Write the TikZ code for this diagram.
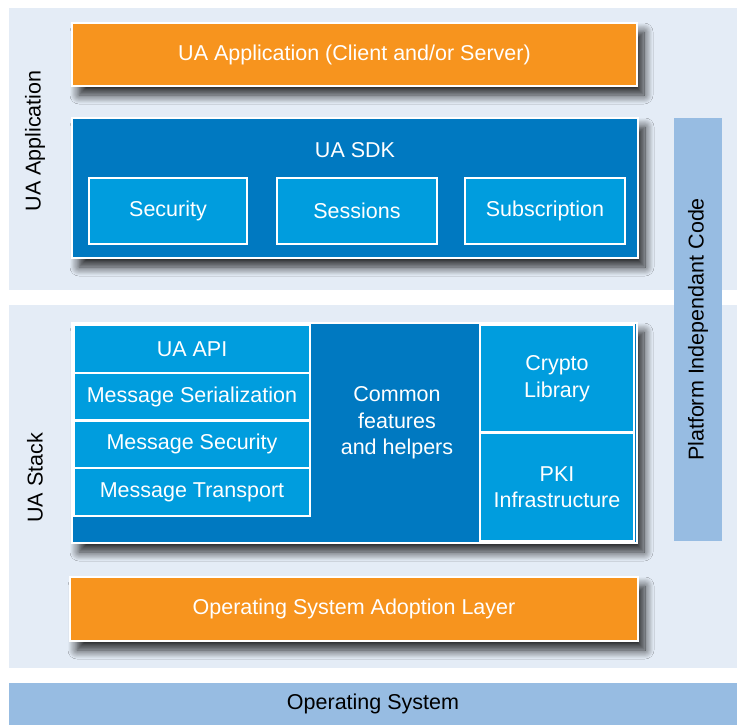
\documentclass[tikz,border=0pt]{standalone}
\usepackage{fontspec}
\setmainfont{Liberation Sans}
\usetikzlibrary{shadows.blur}

\definecolor{panelbg}{RGB}{228,236,246}
\definecolor{uaorange}{RGB}{247,148,30}
\definecolor{darkblue}{RGB}{0,121,193}
\definecolor{lightblue}{RGB}{0,157,222}
\definecolor{paleblue}{RGB}{151,188,226}

\tikzset{
  box/.style={draw=white, line width=2pt, text=white, inner sep=0pt,
              font=\fontsize{21.5}{26.5}\selectfont, align=center},
  orangebox/.style={box, fill=uaorange},
  darkbox/.style={box, fill=darkblue},
  lightbox/.style={box, fill=lightblue},
  shadowed/.style={blur shadow={shadow xshift=7pt, shadow yshift=-9pt,
                   shadow blur radius=9pt, shadow blur steps=12, shadow opacity=85}},
  layer/.style={inner sep=0pt, font=\fontsize{21.5}{26.5}\selectfont, text=black},
  sidelabel/.style={layer, rotate=90}
}

\begin{document}
\begin{tikzpicture}[x=1pt,y=-1pt]
    \useasboundingbox (0,0) rectangle (737,725);

    % background bands
    \fill[panelbg] (9,8) rectangle (737,290);
    \fill[panelbg] (9,305) rectangle (737,668);
    \node[layer, fill=paleblue, minimum width=728pt, minimum height=42pt] (os) at (373,704) {Operating System};
    \node[layer, fill=paleblue, minimum width=48pt, minimum height=423pt] (pic) at (698,329.5) {};
    \node[sidelabel] (picode) at (pic.center) {Platform Independant Code};

    \node[sidelabel] (applabel) at (35,141) {UA Application};
    \node[sidelabel] (stacklabel) at (35,478) {UA Stack};

    % application part
    \node[orangebox, shadowed, minimum width=565pt, minimum height=63pt] (app) at (354.5,54.5)
        {UA Application (Client and/or Server)};
    \node[darkbox, shadowed, minimum width=566pt, minimum height=140pt] (sdk) at (355,188) {};
    \node[box, draw=none] (sdktitle) at (355,150) {UA SDK};
    \node[lightbox, minimum width=158pt, minimum height=66pt] (security) at (168,211) {Security};
    \node[lightbox, minimum width=160pt, minimum height=66pt] (sessions) at (357,211) {Sessions};
    \node[lightbox, minimum width=160pt, minimum height=66pt] (subscription) at (545,211) {Subscription};

    % stack part
    \node[darkbox, shadowed, minimum width=565pt, minimum height=220pt] (stack) at (354.5,433) {};
    \node[lightbox, minimum width=236pt, minimum height=47.75pt] (uaapi) at (192,348.9) {UA API};
    \node[lightbox, minimum width=236pt, minimum height=47.75pt] (serial) at (192,396.6) {Message Serialization};
    \node[lightbox, minimum width=236pt, minimum height=47.75pt] (msgsec) at (192,444.4) {Message Security};
    \node[lightbox, minimum width=236pt, minimum height=47.75pt] (transport) at (192,492.1) {Message Transport};
    \node[box, draw=none] (common) at (397,423) {Common\\features\\and helpers};
    \node[lightbox, minimum width=154pt, minimum height=107pt] (crypto) at (557,378.5) {Crypto\\Library};
    \node[lightbox, minimum width=154pt, minimum height=108pt] (pki) at (557,487) {PKI\\Infrastructure};

    \node[orangebox, shadowed, minimum width=568pt, minimum height=64pt] (osal) at (354,609)
        {Operating System Adoption Layer};
\end{tikzpicture}
\end{document}
